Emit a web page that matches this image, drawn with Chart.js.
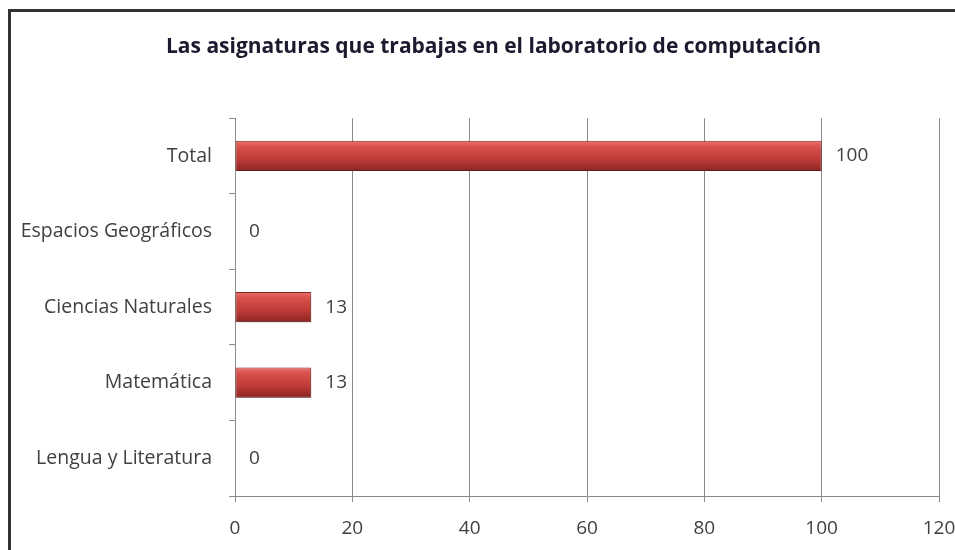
<!DOCTYPE html>
<html>
<head>
<meta charset="utf-8">
<script src="https://cdn.jsdelivr.net/npm/chart.js@4.4.0/dist/chart.umd.min.js"></script>
<style>
  html, body { margin: 0; padding: 0; background: #fff; overflow: hidden; }
  #wrap { position: absolute; left: 0; top: 0; width: 955px; height: 550px; }
  #frame { position: absolute; left: 8px; top: 9px; width: 1000px; height: 600px;
           border: 3px solid #333; pointer-events: none; }
</style>
</head>
<body>
<div id="wrap"><canvas id="chart" width="955" height="550"></canvas></div>
<div id="frame"></div>
<script>
const titleText = 'Las asignaturas que trabajas en el laboratorio de computación';
const categories = ['Total', 'Espacios Geográficos', 'Ciencias Naturales', 'Matemática', 'Lengua y Literatura'];
const values = [100, 0, 13, 13, 0];
const xTicks = [0, 20, 40, 60, 80, 100, 120];

const FONT = '"Open Sans"';
const gridColor = '#8a8a8a';
const textColor = '#404040';

// vertical gradient for each bar, gives the rounded 3d look
function barFill(ctx) {
  const chart = ctx.chart;
  const y = chart.scales.y;
  if (!chart.chartArea || !y) return '#c0403c';
  const center = y.getPixelForValue(ctx.dataIndex);
  const band = Math.abs(y.getPixelForValue(1) - y.getPixelForValue(0));
  const half = band * 0.4 / 2;
  const g = chart.ctx.createLinearGradient(0, center - half, 0, center + half);
  g.addColorStop(0, '#e8706b');
  g.addColorStop(0.2, '#d8504b');
  g.addColorStop(0.6, '#c03c38');
  g.addColorStop(1, '#8a2420');
  return g;
}

// original chart is wider than the crop, so its title sits a bit right of centre
const titleShift = {
  id: 'titleShift',
  afterLayout(chart) {
    if (chart.titleBlock) chart.titleBlock.left += 32;
  }
};

const shadowPlugin = {
  id: 'barShadow',
  beforeDatasetsDraw(chart) {
    const c = chart.ctx;
    c.save();
    c.shadowColor = 'rgba(0,0,0,0.35)';
    c.shadowBlur = 5;
    c.shadowOffsetX = 1;
    c.shadowOffsetY = 3;
  },
  afterDatasetsDraw(chart) {
    chart.ctx.restore();
  }
};

const valueLabels = {
  id: 'valueLabels',
  afterDatasetsDraw(chart) {
    const c = chart.ctx;
    const meta = chart.getDatasetMeta(0);
    c.save();
    c.font = '19px ' + FONT;
    c.fillStyle = textColor;
    c.textAlign = 'left';
    c.textBaseline = 'middle';
    meta.data.forEach((bar, i) => {
      c.fillText(String(values[i]), bar.x + 14, bar.y);
    });
    c.restore();
  }
};

new Chart(document.getElementById('chart'), {
  type: 'bar',
  data: {
    labels: categories,
    datasets: [{
      data: values,
      backgroundColor: barFill,
      borderColor: '#8a2824',
      borderWidth: 1,
      borderSkipped: false,
      barPercentage: 0.4,
      categoryPercentage: 1.0
    }]
  },
  options: {
    indexAxis: 'y',
    responsive: false,
    animation: false,
    layout: { padding: { left: 0, right: 0, top: 0, bottom: 0 } },
    plugins: {
      legend: { display: false },
      tooltip: { enabled: false },
      title: {
        display: true,
        text: titleText,
        color: '#1c1a2e',
        font: { family: FONT, size: 21, weight: 'bold' },
        padding: { top: 34, bottom: 59 }
      }
    },
    scales: {
      x: {
        min: 0,
        max: 120,
        afterBuildTicks(scale) { scale.ticks = xTicks.map(v => ({ value: v })); },
        afterFit(scale) { scale.height = 54; scale.paddingRight = 16; },
        border: { color: gridColor, width: 1 },
        grid: { color: gridColor, tickLength: 6, drawTicks: true },
        ticks: { color: textColor, font: { family: FONT, size: 19 }, padding: 15, maxRotation: 0 }
      },
      y: {
        afterFit(scale) { scale.width = 235; },
        border: { color: gridColor, width: 1 },
        grid: { drawOnChartArea: false, drawTicks: true, tickLength: 6, color: gridColor, offset: true },
        ticks: { color: textColor, font: { family: FONT, size: 19.5 }, padding: 17 }
      }
    }
  },
  plugins: [titleShift, shadowPlugin, valueLabels]
});
</script>
</body>
</html>
